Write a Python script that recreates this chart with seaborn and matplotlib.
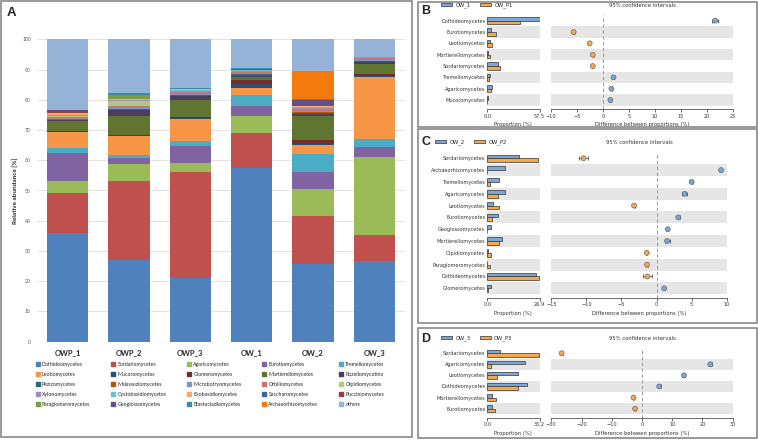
import numpy as np
import pandas as pd
import matplotlib
matplotlib.use('Agg')
import matplotlib.pyplot as plt
from matplotlib.patches import Rectangle, Patch
from matplotlib.lines import Line2D
import seaborn as sns

# ── data: panel A (relative abundance, %) ─────────────────────────────────────
samples = ['OWP_1', 'OWP_2', 'OWP_3', 'OW_1', 'OW_2', 'OW_3']
taxa = ['Dothideomycetes', 'Sordariomycetes', 'Agaricomycetes', 'Eurotiomycetes', 'Tremellomycetes',
        'Leotiomycetes', 'Mucoromycetes', 'Glomeromycetes', 'Mortierellomycetes', 'Rozellomycotina',
        'Pezizomycetes', 'Malasseziomycetes', 'Microbotryomycetes', 'Orbiliomycetes', 'Olpidiomycetes',
        'Xylonomycetes', 'Cystobasidiomycetes', 'Exobasidiomycetes', 'Saccharomycetes', 'Pucciniomycetes',
        'Paraglomeromycetes', 'Geoglossomycetes', 'Blastocladiomycetes', 'Archaeorhizomycetes', 'others']
owp_1 = [35.8, 13.5, 3.7, 9.3, 1.7, 5.2, 0.1, 0.5, 3.3, 0.1, 0.2, 0.1, 0.3, 0.6, 0.2,
         0.3, 0.2, 0.4, 0.2, 0.6, 0.1, 0.1, 0.1, 0.0, 23.4]
owp_2 = [27.0, 26.3, 5.3, 2.2, 1.1, 6.1, 0.1, 0.3, 6.4, 1.8, 0.4, 0.1, 0.3, 0.5, 1.8,
         0.1, 0.1, 0.2, 0.1, 0.1, 1.2, 0.0, 0.7, 0.0, 17.8]
owp_3 = [20.9, 35.1, 3.0, 5.6, 1.9, 7.0, 0.6, 0.1, 5.8, 1.2, 0.3, 0.1, 0.3, 0.6, 0.2,
         0.2, 0.2, 0.3, 0.1, 0.1, 0.1, 0.0, 0.2, 0.0, 16.1]
ow_1 = [57.5, 11.5, 5.6, 3.4, 3.5, 2.5, 1.3, 1.2, 0.9, 0.6, 0.5, 0.1, 0.3, 0.3, 0.1,
        0.2, 0.2, 0.3, 0.1, 0.1, 0.1, 0.0, 0.1, 0.0, 9.6]
ow_2 = [25.6, 15.9, 9.1, 5.4, 6.0, 2.9, 0.4, 1.4, 8.0, 0.5, 0.4, 0.2, 0.4, 0.6, 0.3,
        0.3, 0.3, 0.3, 0.3, 0.1, 0.0, 1.6, 0.2, 9.3, 10.5]
ow_3 = [26.7, 8.6, 25.7, 3.3, 2.6, 20.6, 0.3, 0.8, 3.3, 0.7, 0.2, 0.1, 0.3, 0.6, 0.1,
        0.1, 0.1, 0.1, 0.0, 0.0, 0.0, 0.0, 0.0, 0.0, 5.8]

# ── data: panels B-D (extended error bar plots) ──────────────────────────────
b_taxa = ['Dothideomycetes', 'Eurotiomycetes', 'Leotiomycetes', 'Mortierellomycetes',
          'Sordariomycetes', 'Tremellomycetes', 'Agaricomycetes', 'Mucoromycetes']
b_ow = [57.5, 3.7, 3.0, 1.1, 11.9, 3.3, 5.2, 1.1]
b_owp = [35.6, 9.3, 5.2, 3.0, 13.7, 1.5, 4.1, 0.1]
b_diff = [21.6, -5.7, -2.6, -2.0, -2.0, 2.0, 1.6, 1.4]
b_ci = [0.5, 0.2, 0.15, 0.15, 0.2, 0.15, 0.15, 0.1]

c_taxa = ['Sordariomycetes', 'Archaeorhizomycetes', 'Tremellomycetes', 'Agaricomycetes',
          'Leotiomycetes', 'Eurotiomycetes', 'Geoglossomycetes', 'Mortierellomycetes',
          'Olpidiomycetes', 'Paraglomeromycetes', 'Dothideomycetes', 'Glomeromycetes']
c_ow = [16.1, 9.2, 5.9, 8.9, 3.1, 5.4, 1.7, 7.8, 0.3, 0.0, 25.2, 1.7]
c_owp = [26.2, 0.0, 1.2, 5.4, 6.2, 2.4, 0.0, 6.2, 2.1, 1.6, 26.7, 0.3]
c_diff = [-10.4, 9.2, 5.0, 4.0, -3.2, 3.1, 1.6, 1.5, -1.4, -1.35, -1.3, 1.1]
c_ci = [0.6, 0.15, 0.15, 0.35, 0.2, 0.2, 0.1, 0.35, 0.1, 0.1, 0.65, 0.1]

d_taxa = ['Sordariomycetes', 'Agaricomycetes', 'Leotiomycetes', 'Dothideomycetes',
          'Mortierellomycetes', 'Eurotiomycetes']
d_ow = [8.4, 25.4, 20.4, 26.6, 3.2, 3.2]
d_owp = [34.7, 2.7, 6.8, 20.7, 5.7, 5.5]
d_diff = [-26.6, 22.6, 13.9, 5.7, -2.8, -2.3]
d_ci = [0.4, 0.4, 0.4, 0.5, 0.2, 0.2]

# ── style ─────────────────────────────────────────────────────────────────────
sns.set_theme(style='white')
plt.rcParams['font.family'] = ['DejaVu Sans']

COLORS_A = ['#4F81BD', '#C0504D', '#9BBB59', '#8064A2', '#4BACC6', '#F79646', '#2C4D75', '#772C2A',
            '#5F7530', '#4D3B62', '#276A7C', '#B65708', '#729ACA', '#CD7371', '#AFC97A', '#A18DBB',
            '#6FBDD1', '#F9AB6B', '#3A679C', '#9F3B38', '#7E9D40', '#664F82', '#358EA6', '#F47A0B',
            '#95B3D7']
BLUE = '#7BA7D7'
ORANGE = '#F6A84E'
BAND = '#E6E6E6'
DARK = '#333333'
FONT_A = ['Lato', 'DejaVu Sans']

W, H = 758, 440
fig = plt.figure(figsize=(W / 100, H / 100), dpi=100, facecolor='white')


def add_ax(x0, y0, x1, y1):
    return fig.add_axes([x0 / W, 1 - y1 / H, (x1 - x0) / W, (y1 - y0) / H])


def box(x0, y0, x1, y1):
    fig.add_artist(Rectangle((x0 / W, 1 - y1 / H), (x1 - x0) / W, (y1 - y0) / H,
                             transform=fig.transFigure, fill=False, ec='#7F7F7F', lw=1.1))


# ── panel A: stacked bars ────────────────────────────────────────────────────
box(1, 1, 412, 437)
fig.text(7 / W, 1 - 12.5 / H, 'A', fontsize=9.5, fontweight='bold', va='center',
         family=['Liberation Sans', 'DejaVu Sans'])

ab = pd.DataFrame(dict(zip(samples, [owp_1, owp_2, owp_3, ow_1, ow_2, ow_3])), index=taxa)
cum = ab.cumsum()
axA = add_ax(37, 39.3, 405, 341.7)
# overlay cumulative sums from the top layer down -> stacked look
for i in reversed(range(len(taxa))):
    sns.barplot(x=samples, y=cum.iloc[i].values, color=COLORS_A[i], width=0.67,
                linewidth=0, saturation=1, ax=axA)
axA.set_xlim(-0.5, 5.5)
axA.set_ylim(0, 100)
axA.set_yticks(range(0, 101, 10))
axA.yaxis.grid(True, color='#E3E3E3', lw=0.7)
axA.set_axisbelow(True)
for s in axA.spines.values():
    s.set_visible(False)
axA.tick_params(axis='both', length=0)
axA.tick_params(axis='y', pad=4.5, labelsize=3.6, labelcolor='#595959')
axA.tick_params(axis='x', pad=5.5, labelsize=5.4)
for t in axA.get_yticklabels():
    t.set_family(FONT_A)
for t in axA.get_xticklabels():
    t.set_family(FONT_A)
    t.set_fontweight('bold')
axA.set_ylabel('Relative abundance [%]', fontsize=4.6, fontweight='bold', family=FONT_A, labelpad=3)

legend_x = [35.5, 111, 187, 262, 339]
for c in range(5):
    hs = [Line2D([], [], marker='s', ls='none', markersize=2.2, mfc=COLORS_A[i], mec=COLORS_A[i])
          for i in range(c, len(taxa), 5)]
    fig.legend(hs, taxa[c::5], loc='upper left', bbox_to_anchor=(legend_x[c] / W, 1 - 362 / H),
               frameon=False, handlelength=0.8, handletextpad=0.4, labelspacing=0.95,
               borderpad=0, borderaxespad=0, prop={'family': FONT_A, 'size': 3.8})


# ── panels B-D: extended error bar plots ─────────────────────────────────────
def stamp_panel(letter, frame, letter_y, head_y, legend_x, groups, names, p1, p2, diff, ci,
                pmax, rows_top, spine_y, mid_x1, dlim, dticks):
    box(*frame)
    n = len(names)
    fig.text((frame[0] + 3) / W, 1 - letter_y / H, letter, fontsize=9, fontweight='bold',
             va='center', family=['Liberation Sans', 'DejaVu Sans'])
    row_h = (spine_y - rows_top - 3.3) / n
    bottom = n - 0.5 + 3.3 / row_h

    # proportions
    axl = add_ax(487.3, rows_top, 539.5, spine_y)
    df = pd.DataFrame({'taxon': names * 2,
                       'group': [groups[0]] * n + [groups[1]] * n,
                       'value': list(p1) + list(p2)})
    for i in range(1, n, 2):
        axl.axhspan(i - 0.5, i + 0.5, color=BAND, lw=0, zorder=0)
    sns.barplot(data=df, y='taxon', x='value', hue='group', order=names, orient='h',
                palette=[BLUE, ORANGE], saturation=1, width=0.64, edgecolor=DARK, linewidth=0.5,
                errorbar=None, legend=False, ax=axl)
    axl.set_xlim(0, pmax)
    axl.set_ylim(bottom, -0.5)
    axl.set_xticks([0, pmax])
    axl.set_xticklabels(['0.0', f'{pmax:.1f}'])
    axl.set_xlabel('Proportion (%)', fontsize=3.8, color=DARK, labelpad=2.5)
    axl.set_ylabel('')

    # differences with 95% CI
    axm = add_ax(551.3, rows_top, mid_x1, spine_y)
    for i in range(1, n, 2):
        axm.axhspan(i - 0.5, i + 0.5, color=BAND, lw=0, zorder=0)
    axm.axvline(0, color='#888888', lw=0.6, ls=(0, (4, 3)), zorder=1)
    ypos = np.arange(n)
    axm.errorbar(diff, ypos, xerr=ci, fmt='none', ecolor=DARK, elinewidth=0.5, capsize=1.3,
                 capthick=0.5, zorder=2)
    sign = [groups[0] if d > 0 else groups[1] for d in diff]
    sns.scatterplot(x=diff, y=ypos, hue=sign, palette={groups[0]: BLUE, groups[1]: ORANGE},
                    s=13, edgecolor='#555555', linewidth=0.4, legend=False, zorder=3, ax=axm)
    axm.set_xlim(*dlim)
    axm.set_ylim(bottom, -0.5)
    axm.set_xticks(dticks)
    axm.set_yticks([])
    axm.set_xlabel('Difference between proportions (%)', fontsize=3.8, color=DARK, labelpad=2.5)

    for ax in (axl, axm):
        for k in ('top', 'right', 'left'):
            ax.spines[k].set_visible(False)
        ax.spines['bottom'].set_color(DARK)
        ax.spines['bottom'].set_linewidth(0.5)
        ax.tick_params(axis='x', length=2, width=0.5, color=DARK, labelsize=3.6,
                       labelcolor=DARK, pad=1.5, bottom=True)
    axl.tick_params(axis='y', length=0, labelsize=3.6, labelcolor=DARK, pad=1.5)

    fig.text((551.3 + mid_x1) / 2 / W, 1 - head_y / H, '95% confidence intervals',
             fontsize=3.8, color=DARK, ha='center', va='center')
    hs = [Patch(fc=BLUE, ec=DARK, lw=0.5), Patch(fc=ORANGE, ec=DARK, lw=0.5)]
    fig.legend(hs, groups, loc='center left', bbox_to_anchor=(legend_x / W, 1 - head_y / H),
               frameon=False, ncol=2, handlelength=2.1, handleheight=0.5,
               handletextpad=0.6, columnspacing=1.8, borderpad=0, borderaxespad=0,
               prop={'size': 3.8})


stamp_panel('B', (418, 2, 757, 127), 10.5, 5.5, 441, ['OW_1', 'OW_P1'], b_taxa,
            b_ow, b_owp, b_diff, b_ci, 57.5, 15.0, 109.0, 732.7, (-10, 25), range(-10, 26, 5))
stamp_panel('C', (418, 129, 757, 323), 142, 142, 435, ['OW_2', 'OW_P2'], c_taxa,
            c_ow, c_owp, c_diff, c_ci, 26.9, 152.4, 297.5, 726.7, (-15, 10), range(-15, 11, 5))
stamp_panel('D', (418, 328, 757, 438), 338.5, 338.5, 441, ['OW_3', 'OW_P3'], d_taxa,
            d_ow, d_owp, d_diff, d_ci, 35.2, 347.7, 417.5, 732.7, (-30, 30), range(-30, 31, 10))

fig.savefig('out.png', dpi=100, facecolor='white')
